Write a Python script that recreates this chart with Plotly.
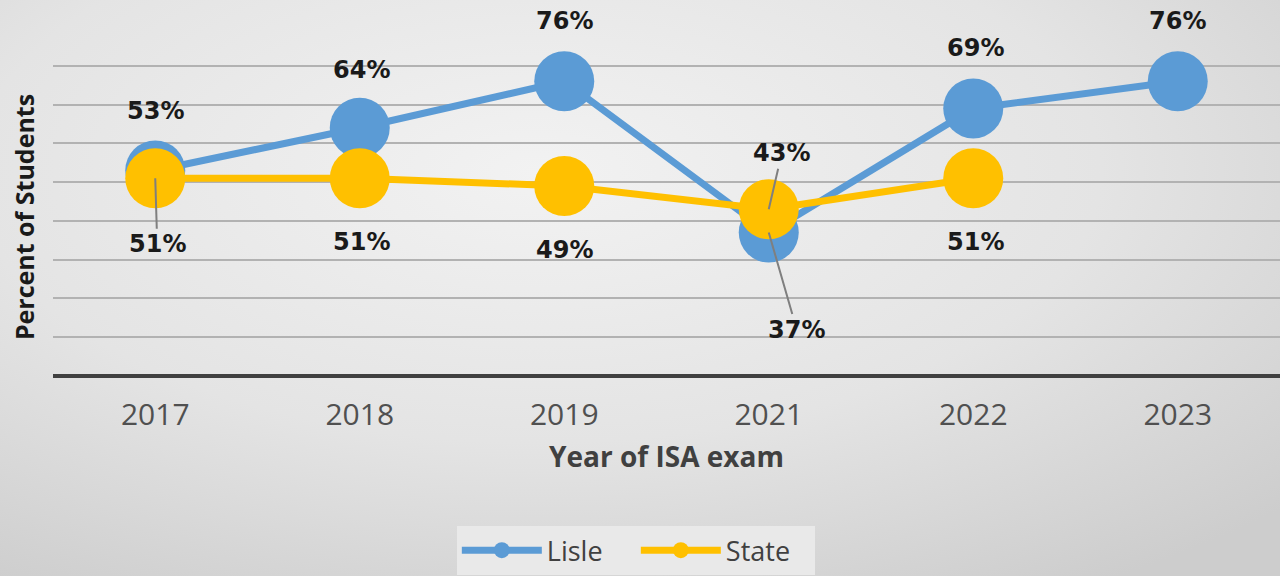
import plotly.graph_objects as go

# ---- data ----
years = ["2017", "2018", "2019", "2021", "2022", "2023"]
lisle = [53, 64, 76, 37, 69, 76]
state = [51, 51, 49, 43, 51, None]
series_names = ["Lisle", "State"]

# ---- styling ----
BLUE = "#5B9BD5"
GOLD = "#FFC000"

# label pixel offsets (dx, dy screen pixels; dy positive = down), leader flag
lisle_lab = [(0, -59, False), (2, -58, False), (0, -60, False),
             (28, 97, True), (2, -60, False), (0, -60, False)]
state_lab = [(2, 66, True), (2, 64, False), (0, 64, False),
             (13, -56, True), (2, 64, False), None]

fig = go.Figure()
fig.add_trace(go.Scatter(
    x=years, y=lisle, name=series_names[0], mode="lines+markers",
    line=dict(color=BLUE, width=7), marker=dict(color=BLUE, size=60),
    cliponaxis=False, hoverinfo="skip"))
fig.add_trace(go.Scatter(
    x=years, y=state, name=series_names[1], mode="lines+markers",
    line=dict(color=GOLD, width=7), marker=dict(color=GOLD, size=60),
    cliponaxis=False, hoverinfo="skip"))

annotations = []
for vals, labs in ((lisle, lisle_lab), (state, state_lab)):
    for yr, v, lab in zip(years, vals, labs):
        if v is None or lab is None:
            continue
        dx, dy, leader = lab
        # category position of the year on the categorical x axis
        xpos = years.index(yr)
        a = dict(x=xpos, y=v, xref="x", yref="y", text="<b>%d%%</b>" % v,
                 font=dict(family="DejaVu Sans", size=24, color="#1a1a1a"))
        if leader:
            a.update(showarrow=True, ax=dx, ay=dy, arrowhead=0, arrowwidth=2,
                     arrowcolor="#7f7f7f")
        else:
            a.update(showarrow=False, xshift=dx, yshift=-dy)
        annotations.append(a)

fig.update_layout(
    width=1280, height=576,
    margin=dict(l=53, r=0, t=58, b=200),
    paper_bgcolor="rgba(0,0,0,0)", plot_bgcolor="rgba(0,0,0,0)",
    showlegend=True,
    legend=dict(orientation="h", x=0.475, xanchor="center", y=-0.472, yanchor="top",
                bgcolor="#e9e9e9", font=dict(family="Open Sans", size=27, color="#404040"),
                itemwidth=80, itemsizing="trace", entrywidth=84),
    annotations=annotations,
    xaxis=dict(
        type="category", showgrid=False, zeroline=False,
        showline=False, ticks="outside", ticklen=12, tickcolor="rgba(0,0,0,0)",
        tickfont=dict(family="Open Sans", size=30, color="#505050"),
        title=dict(text="<b>Year of ISA exam</b>", standoff=14,
                   font=dict(family="Open Sans", size=28, color="#404040")),
        range=[-0.5, 5.5]),
    yaxis=dict(
        range=[0, 82], tick0=0, dtick=10, showticklabels=False, zeroline=True,
        zerolinecolor="#404040", zerolinewidth=4,
        showgrid=True, gridcolor="#b2b2b2", gridwidth=2,
        title=dict(text="<b>Percent of Students</b>", standoff=10,
                   font=dict(family="Open Sans", size=25, color="#1a1a1a"))),
)

post = ("document.body.style.margin='0px';"
        "document.documentElement.style.background="
        "'radial-gradient(ellipse 80% 85% at 42% 30%, #f2f2f2 0%, #e4e4e4 55%, #cdcdcd 100%)';"
        "document.body.style.background='transparent';")

fig.write_html("out.html", post_script=post, config={"displayModeBar": False})
